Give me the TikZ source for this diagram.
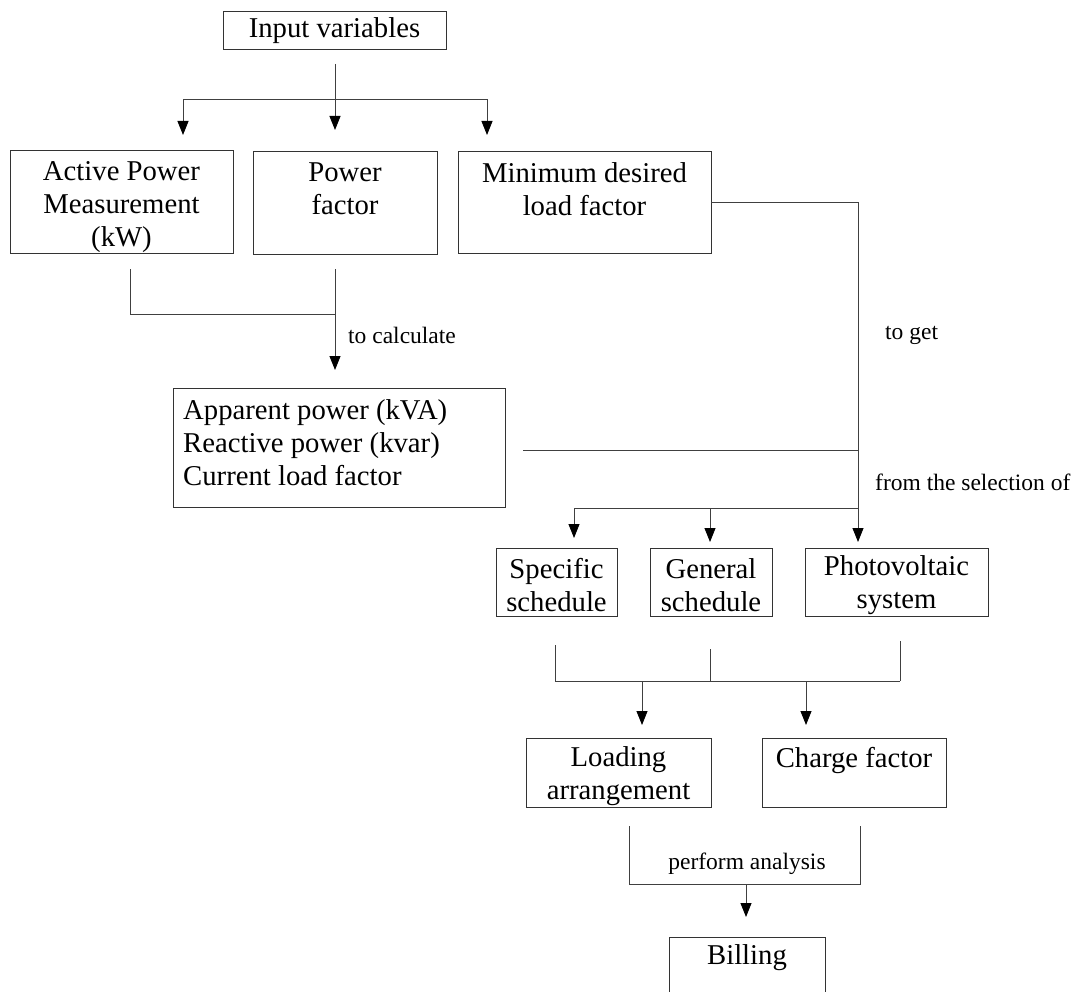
\documentclass[tikz,border=0pt]{standalone}
\usepackage{fontspec}
\setmainfont{Liberation Serif}
\usetikzlibrary{arrows.meta}
\begin{document}
\begin{tikzpicture}[x=1pt,y=-1pt,
  box/.style={draw=black!80, line width=0.9pt, inner sep=0pt, outer sep=0pt},
  txt/.style={inner sep=0pt, align=center, font=\fontsize{28.7}{33}\selectfont},
  lbl/.style={inner sep=0pt, font=\fontsize{23.5}{28}\selectfont},
  ln/.style={draw=black!75, line width=0.9pt},
  arr/.style={ln, -{Triangle[length=14pt,width=11pt,fill=black,color=black]}}]
\useasboundingbox (0,0) rectangle (1083,992);

% boxes
\node[box, minimum width=223pt, minimum height=38pt] (inp) at (334.5,30) {};
\node[box, minimum width=223pt, minimum height=103pt] (act) at (121.5,201.5) {};
\node[box, minimum width=184pt, minimum height=103pt] (pf) at (345,202.5) {};
\node[box, minimum width=253pt, minimum height=102pt] (min) at (584.5,202) {};
\node[box, minimum width=332pt, minimum height=119pt] (app) at (339,447.5) {};
\node[box, minimum width=121pt, minimum height=68pt] (spec) at (556.5,582) {};
\node[box, minimum width=122pt, minimum height=68pt] (gen) at (711,582) {};
\node[box, minimum width=183pt, minimum height=68pt] (pv) at (896.5,582) {};
\node[box, minimum width=185pt, minimum height=69pt] (load) at (618.5,772.5) {};
\node[box, minimum width=184pt, minimum height=69pt] (chg) at (854,772.5) {};
\node[box, minimum width=156pt, minimum height=76pt] (bill) at (747,975) {};

% texts
\node[txt] (tinp) at (334.5,31) {Input variables};
\node[txt] (tact) at (121.5,207) {Active Power\\Measurement\\(kW)};
\node[txt] (tpf) at (345,189) {Power\\factor};
\node[txt] (tmin) at (584.5,189) {Minimum desired\\load factor};
\node[txt, align=left, anchor=west] (tapp) at (183,443) {Apparent power (kVA)\\Reactive power (kvar)\\Current load factor};
\node[txt] (tspec) at (556.5,585) {Specific\\schedule};
\node[txt] (tgen) at (711,585) {General\\schedule};
\node[txt] (tpv) at (896.5,585) {Photovoltaic\\system};
\node[txt] (tload) at (618.5,776) {Loading\\arrangement};
\node[txt] (tchg) at (854,760) {Charge factor};
\node[txt] (tbill) at (747,958) {Billing};

% labels
\node[lbl, anchor=west] (l1) at (348,335) {to calculate};
\node[lbl, anchor=west] (l2) at (885,335) {to get};
\node[lbl, anchor=west] (l3) at (875,482) {from the selection of};
\node[lbl] (l4) at (747,864) {perform analysis};

% input fan-out
\coordinate (i0) at (335,64);
\coordinate (i1) at (335,99);
\coordinate (iL) at (183,99);
\coordinate (iR) at (487,99);
\draw[arr, shorten >=21pt] (i0) -- (i0 |- pf.north);
\draw[arr, shorten >=15pt] (i1) -| (act.north -| iL);
\draw[arr, shorten >=16pt] (i1) -| (min.north -| iR);

% active + pf to apparent
\coordinate (q1) at (130,314);
\coordinate (q2) at (335,314);
\draw[ln, shorten <=16pt] (act.south -| q1) -- (q1) -- (q2);
\draw[arr, shorten <=15pt, shorten >=18pt] (pf.south -| q2) -- (q2 |- app.north);

% min to pv
\coordinate (vx) at (858,450);
\draw[arr, shorten >=6pt] (min.east) -| (pv.north -| vx);
\draw[ln, shorten <=18pt] (app.east |- vx) -- (vx);

% selection branch
\coordinate (s0) at (858,508);
\coordinate (sx) at (574,508);
\coordinate (gx) at (710,508);
\draw[ln] (s0) -- (sx);
\draw[arr, shorten >=10pt] (sx) -- (sx |- spec.north);
\draw[arr, shorten >=6pt] (gx) -- (gx |- gen.north);

% merge to loading / charge
\coordinate (m1) at (555,681);
\coordinate (m2) at (710,681);
\coordinate (m3) at (900,681);
\draw[ln, shorten <=29pt] (spec.south -| m1) -- (m1) -- (m3);
\draw[ln, shorten <=33pt] (gen.south -| m2) -- (m2);
\draw[ln, shorten <=25pt] (pv.south -| m3) -- (m3);
\coordinate (a1) at (642,681);
\coordinate (a2) at (806,681);
\draw[arr, shorten >=13pt] (a1) -- (a1 |- load.north);
\draw[arr, shorten >=13pt] (a2) -- (a2 |- chg.north);

% to billing
\coordinate (p1) at (629,884);
\coordinate (p2) at (860,884);
\coordinate (p3) at (746,884);
\draw[ln, shorten <=19pt, shorten >=19pt] (load.south -| p1) -- (p1) -- (p2) -- (chg.south -| p2);
\draw[arr, shorten >=20pt] (p3) -- (p3 |- bill.north);
\end{tikzpicture}
\end{document}
